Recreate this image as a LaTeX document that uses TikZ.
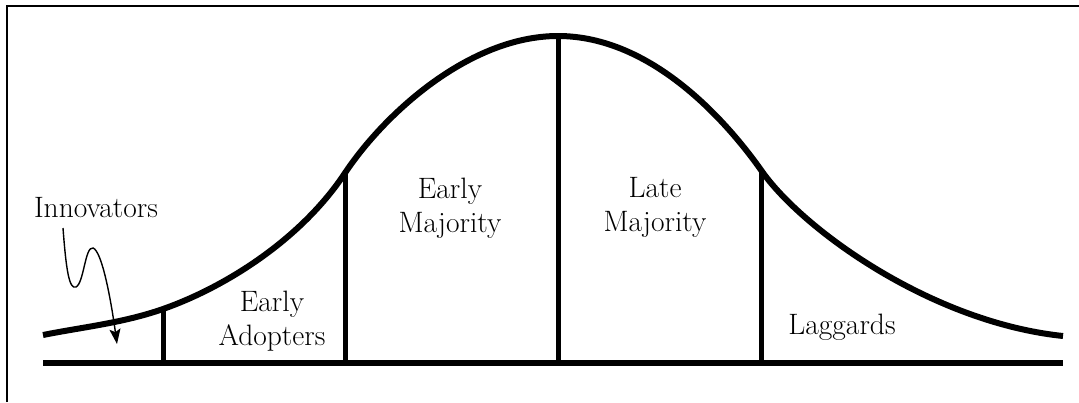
\documentclass[tikz,border=0pt]{standalone}
\usetikzlibrary{arrows.meta}
\begin{document}
\begin{tikzpicture}[x=1pt,y=-1pt,
  thickline/.style={line width=5.5pt,line cap=butt},
  curveline/.style={line width=6pt,line join=round},
  divider/.style={line width=5pt},
  frameline/.style={line width=2pt},
  squiggle/.style={line width=1.4pt,-{Stealth[length=15pt,width=11pt,inset=3pt]}},
  lbl/.style={inner sep=0pt,align=center,font=\fontsize{29.5}{34}\selectfont}]
\useasboundingbox (0,0) rectangle (1079,402);
% frame
\coordinate (f1) at (7,402);
\coordinate (f2) at (7,6);
\coordinate (f3) at (1079,6);
\draw[frameline] (f1) -- (f2) -- (f3);
% baseline
\coordinate (bl) at (43,363);
\coordinate (br) at (1063,363);
\draw[thickline] (bl) -- (br);
% curve points
\coordinate (c0) at (43,335);
\coordinate (t1) at (163,309); \coordinate (b1) at (163,363);
\coordinate (t2) at (345,173); \coordinate (b2) at (345,363);
\coordinate (t3) at (558,36);  \coordinate (b3) at (558,363);
\coordinate (t4) at (761,170); \coordinate (b4) at (761,363);
\coordinate (c5) at (1063,336);
\draw[curveline] (c0) .. controls (83,327) and (123,323) .. (t1)
  .. controls (223,288) and (300,241) .. (t2)
  .. controls (385,113) and (470,36) .. (t3)
  .. controls (652,36) and (727,122) .. (t4)
  .. controls (801,228) and (930,322) .. (c5);
% dividers
\draw[divider] (b1) -- (t1);
\draw[divider] (b2) -- (t2);
\draw[divider] (b3) -- (t3);
\draw[divider] (b4) -- (t4);
% labels
\node[lbl,anchor=base] (innov) at (96,217) {Innovators};
\node[lbl] (adopt) at (272,321) {Early\\Adopters};
\node[lbl] (emaj) at (450,208) {Early\\Majority};
\node[lbl] (lmaj) at (655,207) {Late\\Majority};
\node[lbl,anchor=base] (lagg) at (842,334) {Laggards};
% squiggly arrow
\coordinate (s0) at (63,228);
\coordinate (s1) at (117,344);
\draw[squiggle] (s0) .. controls (66,268) and (69,290) .. (76,287)
  .. controls (84,283) and (85,246) .. (93,248)
  .. controls (102,251) and (111,300) .. (s1);
\end{tikzpicture}
\end{document}
